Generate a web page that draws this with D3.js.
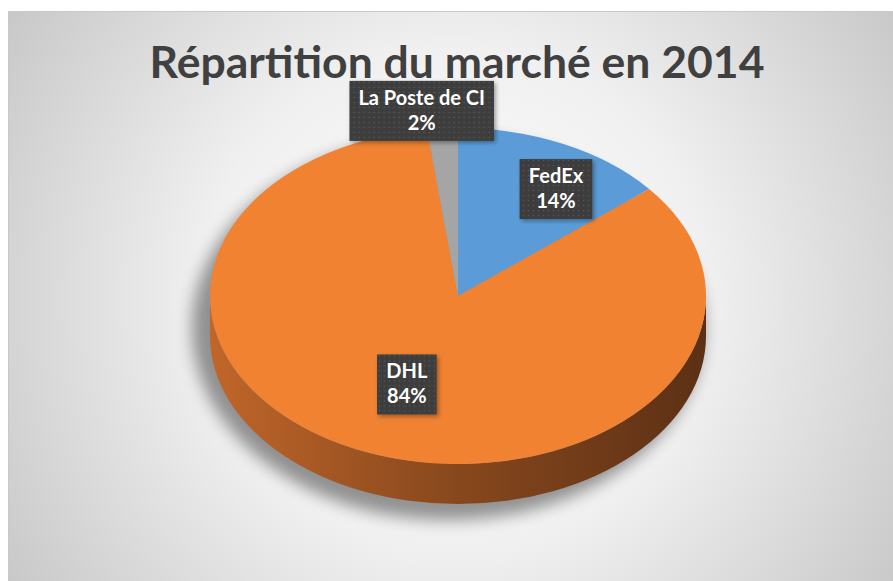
<!DOCTYPE html>
<html>
<head>
<meta charset="utf-8">
<script src="https://cdn.jsdelivr.net/npm/d3@7"></script>
<style>
  body { margin: 0; background: #fff; }
  text { font-family: Lato, "Open Sans", sans-serif; }
</style>
</head>
<body>
<script>
// market share data, 2014
const categories = ["FedEx", "DHL", "La Poste de CI"];
const shares = [14, 84, 2];
const titleText = "Répartition du marché en 2014";

const W = 893, H = 581;
const cx = 458, cy = 296, rx = 248, ry = 168, depth = 40;
const k = ry / rx;

const color = d3.scaleOrdinal()
    .domain(categories)
    .range(["#5b9cd8", "#f08232", "#a5a5a5"]);

const svg = d3.select("body").append("svg")
    .attr("width", W)
    .attr("height", H);

const defs = svg.append("defs");

// chart background
const bg = defs.append("radialGradient")
    .attr("id", "bg")
    .attr("gradientUnits", "userSpaceOnUse")
    .attr("cx", 455).attr("cy", 300).attr("r", 560);
bg.append("stop").attr("offset", "0%").attr("stop-color", "#ffffff");
bg.append("stop").attr("offset", "45%").attr("stop-color", "#f0f0f0");
bg.append("stop").attr("offset", "100%").attr("stop-color", "#c4c4c4");

// side wall shading, in the scaled pie frame
const side = defs.append("linearGradient")
    .attr("id", "side")
    .attr("gradientUnits", "userSpaceOnUse")
    .attr("x1", -rx).attr("x2", rx).attr("y1", 0).attr("y2", 0);
side.append("stop").attr("offset", "0%").attr("stop-color", "#c0662a");
side.append("stop").attr("offset", "45%").attr("stop-color", "#8c4a1e");
side.append("stop").attr("offset", "100%").attr("stop-color", "#5c3015");

defs.append("filter").attr("id", "blur")
    .attr("x", "-20%").attr("y", "-20%").attr("width", "140%").attr("height", "140%")
    .append("feGaussianBlur").attr("stdDeviation", 8);

defs.append("filter").attr("id", "drop")
    .attr("x", "-20%").attr("y", "-20%").attr("width", "150%").attr("height", "150%")
    .append("feDropShadow")
    .attr("dx", 2).attr("dy", 2).attr("stdDeviation", 2)
    .attr("flood-color", "#000").attr("flood-opacity", 0.35);

const pat = defs.append("pattern")
    .attr("id", "dots")
    .attr("patternUnits", "userSpaceOnUse")
    .attr("width", 5).attr("height", 5);
pat.append("rect").attr("width", 5).attr("height", 5).attr("fill", "#3d3d3d");
pat.append("circle").attr("cx", 2.5).attr("cy", 2.5).attr("r", 0.8).attr("fill", "#595959");

svg.append("rect")
    .attr("x", 8.5).attr("y", 11.5)
    .attr("width", W).attr("height", H)
    .attr("fill", "url(#bg)")
    .attr("stroke", "#c8c8c8");

// title, scaled to the reference width
const title = svg.append("text")
    .attr("x", 457).attr("y", 78)
    .attr("text-anchor", "middle")
    .attr("font-weight", "bold")
    .attr("font-size", 44)
    .attr("fill", "#404040")
    .text(titleText);
const tw = title.node().getComputedTextLength();
title.attr("font-size", 44 * 615 / tw);

// soft shadow under the pie
svg.append("ellipse")
    .attr("cx", cx - 10).attr("cy", cy + 32)
    .attr("rx", rx + 8)
    .attr("ry", ry + 24)
    .attr("fill", "#000")
    .attr("opacity", 0.4)
    .attr("filter", "url(#blur)");

const pie = d3.pie().sort(null).value(d => d)(shares);
const arc = d3.arc().innerRadius(0).outerRadius(rx);

const pieG = svg.append("g")
    .attr("transform", `translate(${cx},${cy}) scale(1,${k})`);

// front wall (visible from 90deg to 270deg, all inside the DHL slice)
const D = depth / k;
pieG.append("path")
    .attr("d", `M${rx},0 A${rx},${rx} 0 0 1 ${-rx},0 L${-rx},${D} A${rx},${rx} 0 0 0 ${rx},${D} Z`)
    .attr("fill", "url(#side)");

pieG.selectAll("path.slice")
    .data(pie)
    .enter().append("path")
    .attr("class", "slice")
    .attr("d", arc)
    .attr("fill", (d, i) => color(categories[i]));

// data labels
const fmt = d3.format(".0%");
const total = d3.sum(shares);
const labelLayout = {
    "FedEx": { r: 0.71, dx: 23, dy: 0 },
    "DHL": { r: 0.56, dx: 0, dy: 0 },
    "La Poste de CI": { r: 1.11, dx: -19, dy: 0 }
};

pie.forEach((d, i) => {
    const name = categories[i];
    const L = labelLayout[name];
    const mid = (d.startAngle + d.endAngle) / 2;
    const x = cx + rx * L.r * Math.sin(mid) + L.dx;
    const y = cy - ry * L.r * Math.cos(mid) + L.dy;

    const g = svg.append("g").attr("transform", `translate(${x},${y})`);
    const box = g.append("rect").attr("fill", "url(#dots)").attr("filter", "url(#drop)");
    const t = g.append("text")
        .attr("text-anchor", "middle")
        .attr("font-weight", "bold")
        .attr("font-size", 20)
        .attr("fill", "#fff");
    t.append("tspan").attr("x", 0).attr("y", -5).text(name);
    t.append("tspan").attr("x", 0).attr("y", 20).text(fmt(shares[i] / total));

    const bw = t.node().getBBox().width + 18;
    box.attr("x", -bw / 2).attr("y", -29).attr("width", bw).attr("height", 60);
});
</script>
</body>
</html>
